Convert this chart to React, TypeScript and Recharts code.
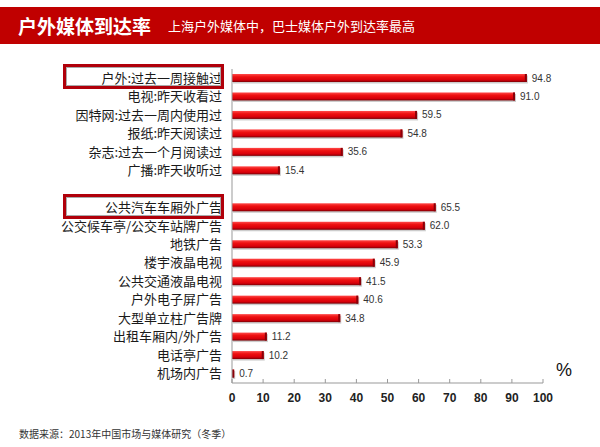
import React from "react";
import { BarChart, Bar, XAxis, YAxis, LabelList } from "recharts";

const categories: string[] = [
  "户外:过去一周接触过",
  "电视:昨天收看过",
  "因特网:过去一周内使用过",
  "报纸:昨天阅读过",
  "杂志:过去一个月阅读过",
  "广播:昨天收听过",
  " ",
  "公共汽车车厢外广告",
  "公交候车亭/公交车站牌广告",
  "地铁广告",
  "楼宇液晶电视",
  "公共交通液晶电视",
  "户外电子屏广告",
  "大型单立柱广告牌",
  "出租车厢内/外广告",
  "电话亭广告",
  "机场内广告",
];

const values: (number | null)[] = [
  94.8, 91.0, 59.5, 54.8, 35.6, 15.4, null,
  65.5, 62.0, 53.3, 45.9, 41.5, 40.6, 34.8, 11.2, 10.2, 0.7,
];

const xTicks: number[] = [0, 10, 20, 30, 40, 50, 60, 70, 80, 90, 100];

const title = "户外媒体到达率";
const subtitle = "上海户外媒体中，巴士媒体户外到达率最高";
const source = "数据来源：2013年中国市场与媒体研究（冬季）";

const data = categories.map((c, i) => ({ name: c, value: values[i] }));

const CJK = '"Noto Sans CJK SC", "Noto Sans", sans-serif';

const BarShape = (props: any) => {
  const { x, y, width, height } = props;
  if (width == null || width <= 0 || height == null) return null;
  return (
    <g>
      <rect x={x + 1} y={y + 1.5} width={width} height={height} fill="#9a9a9a" opacity={0.5} />
      <rect x={x} y={y} width={width} height={height} fill="url(#barGrad)" />
      <rect x={x + width - 2} y={y} width={2} height={height} fill="#8a0008" />
    </g>
  );
};

const XTick = (props: any) => {
  const { x, y, payload } = props;
  return (
    <g>
      <line x1={x} x2={x} y1={y - 4} y2={y} stroke="#999" strokeWidth={1} />
      <text
        x={x}
        y={y + 19}
        textAnchor="middle"
        fontFamily='"Liberation Sans", Arial, sans-serif'
        fontSize={12}
        fontWeight="bold"
        fill="#222"
      >
        {payload.value}
      </text>
    </g>
  );
};

const YTick = (props: any) => {
  const { x, y, payload } = props;
  return (
    <text
      x={x}
      y={y}
      dy={4.5}
      textAnchor="end"
      fontFamily={CJK}
      fontSize={13}
      fill="#1a1a1a"
    >
      {payload.value}
    </text>
  );
};

export default function App() {
  return (
    <div
      style={{
        position: "absolute",
        left: 0,
        top: 0,
        width: 600,
        height: 447,
        background: "#fff",
        overflow: "hidden",
      }}
    >
      <div
        style={{
          position: "absolute",
          left: 0,
          top: 7,
          width: 600,
          height: 37,
          background: "#c00000",
        }}
      />
      <div
        style={{
          position: "absolute",
          left: 18,
          top: 7,
          height: 37,
          lineHeight: "37px",
          color: "#fff",
          fontFamily: CJK,
          fontWeight: "bold",
          fontSize: 19,
          whiteSpace: "nowrap",
        }}
      >
        {title}
      </div>
      <div
        style={{
          position: "absolute",
          left: 168,
          top: 7,
          height: 37,
          lineHeight: "37px",
          color: "#fff",
          fontFamily: CJK,
          fontSize: 13,
          whiteSpace: "nowrap",
        }}
      >
        {subtitle}
      </div>
      <div style={{ position: "absolute", left: 0, top: 0 }}>
        <BarChart
          width={600}
          height={447}
          layout="vertical"
          data={data}
          margin={{ top: 69, right: 57, bottom: 34, left: 0 }}
          barCategoryGap={0}
        >
          <defs>
            <linearGradient id="barGrad" x1="0" y1="0" x2="0" y2="1">
              <stop offset="0%" stopColor="#ff4a4a" />
              <stop offset="35%" stopColor="#ee1111" />
              <stop offset="75%" stopColor="#d8000a" />
              <stop offset="100%" stopColor="#7a0005" />
            </linearGradient>
          </defs>
          <XAxis
            type="number"
            domain={[0, 100]}
            ticks={xTicks}
            interval={0}
            height={30}
            axisLine={{ stroke: "#999" }}
            tickLine={false}
            tickSize={0}
            tickMargin={0}
            tick={<XTick />}
          />
          <YAxis
            type="category"
            dataKey="name"
            width={232}
            interval={0}
            axisLine={{ stroke: "#999" }}
            tickLine={false}
            tickSize={0}
            tickMargin={10}
            tick={<YTick />}
          />
          <Bar dataKey="value" barSize={8} shape={<BarShape />} isAnimationActive={false}>
            <LabelList
              dataKey="value"
              position="right"
              offset={5}
              formatter={(v: any) => (v == null ? "" : Number(v).toFixed(1))}
              style={{ fontFamily: '"Liberation Sans", Arial, sans-serif', fontSize: 10, fill: "#333" }}
            />
          </Bar>
        </BarChart>
      </div>
      <div
        style={{
          position: "absolute",
          left: 63,
          top: 64,
          width: 155,
          height: 19,
          border: "3px solid #b0000a",
          boxShadow: "inset 0 0 0 1px #aaa",
        }}
      />
      <div
        style={{
          position: "absolute",
          left: 63,
          top: 194,
          width: 155,
          height: 19,
          border: "3px solid #b0000a",
          boxShadow: "inset 0 0 0 1px #aaa",
        }}
      />
      <div
        style={{
          position: "absolute",
          left: 556,
          top: 360,
          fontFamily: '"Liberation Sans", Arial, sans-serif',
          fontSize: 18,
          color: "#111",
        }}
      >
        %
      </div>
      <div
        style={{
          position: "absolute",
          left: 19,
          top: 426,
          fontFamily: CJK,
          fontSize: 10,
          color: "#333",
          whiteSpace: "nowrap",
        }}
      >
        {source}
      </div>
    </div>
  );
}
